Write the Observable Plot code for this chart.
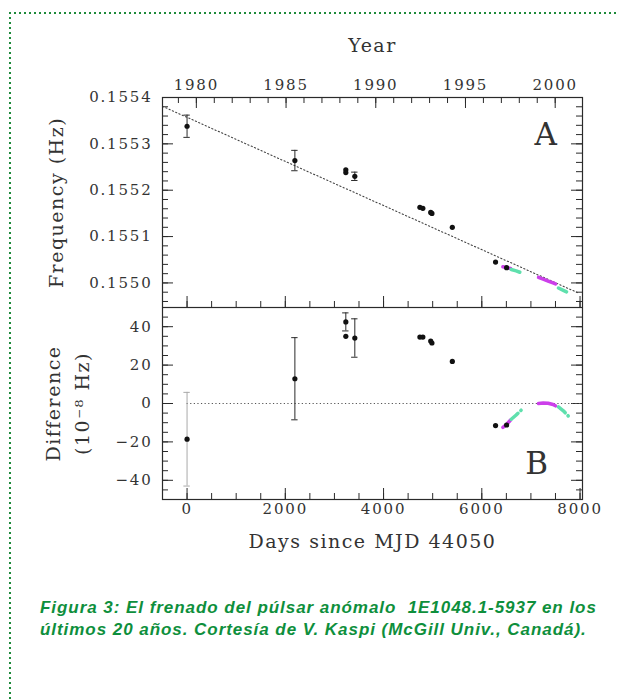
<!DOCTYPE html>
<html><head><meta charset="utf-8">
<script src="https://cdn.jsdelivr.net/npm/d3@7"></script>
<script src="https://cdn.jsdelivr.net/npm/@observablehq/plot@0.6"></script>
<style>
body{margin:0;background:#fff;width:617px;height:700px;position:relative;overflow:hidden}
#border{position:absolute;left:9px;top:12px;right:0;bottom:0;
 background-image:repeating-linear-gradient(to right,#1d8a3a 0 2px,transparent 2px 5px),repeating-linear-gradient(to bottom,#1d8a3a 0 2px,transparent 2px 5px);
 background-size:100% 2px,2px 100%;background-repeat:no-repeat;background-position:0 0,0 0}
#chart{position:absolute;left:0;top:0}
#chart svg{display:block;background:transparent}
#chart g[aria-label$="tick label"] text{letter-spacing:1.8px}
#chart g[aria-label="text"] text{letter-spacing:1.5px}
#caption{position:absolute;left:40px;top:597px;font:italic bold 17px "Liberation Sans",Arial,sans-serif;letter-spacing:0.95px;color:#0e8f3c;line-height:22px;white-space:nowrap}
</style></head><body>
<div id="border"></div>
<div id="chart"></div>
<div id="caption">Figura 3: El frenado del púlsar anómalo&nbsp; 1E1048.1-5937 en los<br>últimos 20 años. Cortesía de V. Kaspi (McGill Univ., Canadá).</div>
<script>
// ---- data (days since MJD 44050) ----
const obsDays = [0, 2195, 3232, 3232, 3415, 4740, 4800, 4960, 4985, 5400, 6280, 6505];
const obsFreq = [0.155338, 0.155264, 0.155244, 0.155238, 0.155230, 0.155163, 0.155161, 0.155152, 0.155150, 0.155120, 0.155045, 0.155033];
const freqErr = [2.4e-5, 2.2e-5, 0, 0, 9e-6, 0, 0, 0, 0, 0, 0, 0];
const obsDiff = [-18.6, 12.9, 42.5, 35.0, 34.1, 34.6, 34.6, 32.5, 31.5, 21.9, -11.5, -11.2];
const diffErr = [24.4, 21.4, 4.7, 0, 10.0, 0, 0, 0, 0, 0, 0, 0];

const fitDays = [-500, 7950];
const fitFreq = [0.155381, 0.154979];

const magenta1Days = [6430, 6500, 6585];
const magenta1Freq = [0.155035, 0.155033, 0.155031];
const magenta1Diff = [-12.4, -11.0, -8.6];
const green1Days = [6600, 6700, 6800];
const green1Freq = [0.155029, 0.155026, 0.155022];
const green1Diff = [-8.2, -6.0, -3.5];
const magenta2Days = [7155, 7250, 7350, 7450, 7500];
const magenta2Freq = [0.155012, 0.155008, 0.155004, 0.155000, 0.154998];
const magenta2Diff = [0.0, 0.2, 0.1, -0.5, -1.2];
const green2Days = [7560, 7660, 7760];
const green2Freq = [0.154989, 0.154984, 0.154979];
const green2Diff = [-1.8, -3.8, -6.5];

// ---- ticks ----
const dayMajor = [0, 2000, 4000, 6000, 8000];
const dayMinor = d3.range(-500, 8001, 500);
const yearMajor = [1980, 1985, 1990, 1995, 2000];
const yearMinor = d3.range(1979, 2001);
const freqMajor = [0.1550, 0.1551, 0.1552, 0.1553, 0.1554];
const freqMinor = d3.range(0, 23).map(i => 0.15496 + i * 0.00002);
const diffMajor = [-40, -20, 0, 20, 40];
const diffMinor = d3.range(-50, 51, 5);

const yearToDay = y => (y - 1980) * 365.25 + 189; // 1980.0 = MJD 44239
const dayToYear = d => String(Math.round((d - 189) / 365.25 + 1980));

// ---- layout ----
const W = 617, ML = 162, MR = 35, innerW = W - ML - MR;
const topH = 307, topMT = 97, topInner = topH - topMT;
const botInner = 192, botMB = 60, botH = botInner + botMB;
const serif = "DejaVu Serif";
const ink = "#2a2a2a";
const xDomain = [-500, 8050];
const capD = 65;
const MAG = "#cc3fea", GRN = "#5fe0ad";

const pts = obsDays.map((d, i) => ({day: d, freq: obsFreq[i], fe: freqErr[i], diff: obsDiff[i], de: diffErr[i]}));
const rows = (days, vals) => days.map((d, i) => ({day: d, v: vals[i]}));

function ticksX(vals, len, side, inner) {
  const o = {x: d => d, stroke: ink, strokeWidth: 1};
  o[side === "top" ? "insetBottom" : "insetTop"] = inner - len;
  return Plot.ruleX(vals, o);
}
function ticksY(vals, len, side) {
  const o = {y: d => d, stroke: ink, strokeWidth: 1};
  o[side === "left" ? "insetRight" : "insetLeft"] = innerW - len;
  return Plot.ruleY(vals, o);
}
function segs(key) {
  return [
    Plot.line(rows(magenta1Days, key === "f" ? magenta1Freq : magenta1Diff), {x: "day", y: "v", stroke: MAG, strokeWidth: 3.5}),
    Plot.line(rows(green1Days, key === "f" ? green1Freq : green1Diff), {x: "day", y: "v", stroke: GRN, strokeWidth: 3.5, strokeDasharray: "9,4"}),
    Plot.line(rows(magenta2Days, key === "f" ? magenta2Freq : magenta2Diff), {x: "day", y: "v", stroke: MAG, strokeWidth: 3.5}),
    Plot.line(rows(green2Days, key === "f" ? green2Freq : green2Diff), {x: "day", y: "v", stroke: GRN, strokeWidth: 3.5, strokeDasharray: "9,4"})
  ];
}

const errTop = pts.filter(d => d.fe > 0);
const errBot = pts.filter(d => d.de > 0);
const errColor = d => d.day === 0 ? "#a9a9a9" : ink;

const topPlot = Plot.plot({
  width: W, height: topH, marginTop: topMT, marginBottom: 0, marginLeft: ML, marginRight: MR,
  style: {fontFamily: serif, fontSize: "15px", color: "#333", background: "transparent"},
  x: {domain: xDomain},
  y: {domain: [0.154947, 0.1554]},
  marks: [
    Plot.axisX(yearMajor.map(yearToDay), {anchor: "top", tickSize: 0, tickPadding: 8, tickFormat: dayToYear, label: null, fill: "#333"}),
    Plot.axisY(freqMajor, {anchor: "left", tickSize: 0, tickPadding: 10, tickFormat: d3.format(".4f"), label: null, fill: "#333"}),
    Plot.text(["Year"], {text: d => d, frameAnchor: "top", dy: -52, lineAnchor: "middle", textAnchor: "middle", fontSize: 19, fill: "#333"}),
    Plot.text(["Frequency (Hz)"], {text: d => d, frameAnchor: "left", dx: -106, rotate: -90, lineAnchor: "middle", textAnchor: "middle", fontSize: 19, fill: "#333"}),
    Plot.text(["A"], {text: d => d, frameAnchor: "top-right", dx: -36, dy: 38, lineAnchor: "middle", textAnchor: "middle", fontSize: 31, fill: "#333"}),
    ticksX(yearMajor.map(yearToDay), 11, "top", topInner),
    ticksX(yearMinor.map(yearToDay), 6, "top", topInner),
    ticksX(dayMajor, 11, "bottom", topInner),
    ticksX(dayMinor, 6, "bottom", topInner),
    ticksY(freqMajor, 11, "left"), ticksY(freqMinor, 6, "left"),
    ticksY(freqMajor, 11, "right"), ticksY(freqMinor, 6, "right"),
    Plot.line(rows(fitDays, fitFreq), {x: "day", y: "v", stroke: "#444", strokeWidth: 1.1, strokeDasharray: "1.2,2.4"}),
    Plot.ruleX(errTop, {x: "day", y1: d => d.freq - d.fe, y2: d => d.freq + d.fe, stroke: ink}),
    Plot.ruleY(errTop, {y: d => d.freq + d.fe, x1: d => d.day - capD, x2: d => d.day + capD, stroke: ink}),
    Plot.ruleY(errTop, {y: d => d.freq - d.fe, x1: d => d.day - capD, x2: d => d.day + capD, stroke: ink}),
    ...segs("f"),
    Plot.dot(pts, {x: "day", y: "freq", r: 2.6, fill: "#111"}),
    Plot.frame({stroke: ink, strokeWidth: 1.2})
  ]
});

const botPlot = Plot.plot({
  width: W, height: botH, marginTop: 0, marginBottom: botMB, marginLeft: ML, marginRight: MR,
  style: {fontFamily: serif, fontSize: "15px", color: "#333", background: "transparent"},
  x: {domain: xDomain},
  y: {domain: [-50, 50]},
  marks: [
    Plot.axisX(dayMajor, {anchor: "bottom", tickSize: 0, tickPadding: 4, tickFormat: d => String(d), label: null, fill: "#333"}),
    Plot.axisY(diffMajor, {anchor: "left", tickSize: 0, tickPadding: 10, label: null, fill: "#333"}),
    Plot.text(["Days since MJD 44050"], {text: d => d, frameAnchor: "bottom", dy: 42, lineAnchor: "middle", textAnchor: "middle", fontSize: 19, fill: "#333"}),
    Plot.text(["Difference"], {text: d => d, frameAnchor: "left", dx: -109, rotate: -90, lineAnchor: "middle", textAnchor: "middle", fontSize: 19, fill: "#333"}),
    Plot.text(["(10⁻⁸ Hz)"], {text: d => d, frameAnchor: "left", dx: -80, rotate: -90, lineAnchor: "middle", textAnchor: "middle", fontSize: 19, fill: "#333"}),
    Plot.text(["B"], {text: d => d, frameAnchor: "bottom-right", dx: -45, dy: -35, lineAnchor: "middle", textAnchor: "middle", fontSize: 31, fill: "#333"}),
    ticksX(dayMajor, 11, "bottom", botInner),
    ticksX(dayMinor, 6, "bottom", botInner),
    ticksY(diffMajor, 11, "left"), ticksY(diffMinor, 6, "left"),
    ticksY(diffMajor, 11, "right"), ticksY(diffMinor, 6, "right"),
    Plot.ruleY([0], {x1: 0, x2: 8050, stroke: "#555", strokeWidth: 1.1, strokeDasharray: "1.2,2.4"}),
    Plot.ruleX(errBot, {x: "day", y1: d => d.diff - d.de, y2: d => d.diff + d.de, stroke: errColor}),
    Plot.ruleY(errBot, {y: d => d.diff + d.de, x1: d => d.day - capD, x2: d => d.day + capD, stroke: errColor}),
    Plot.ruleY(errBot, {y: d => d.diff - d.de, x1: d => d.day - capD, x2: d => d.day + capD, stroke: errColor}),
    ...segs("d"),
    Plot.dot(pts, {x: "day", y: "diff", r: 2.6, fill: "#111"}),
    Plot.frame({stroke: ink, strokeWidth: 1.2})
  ]
});

document.getElementById("chart").append(topPlot, botPlot);
</script>
</body></html>
